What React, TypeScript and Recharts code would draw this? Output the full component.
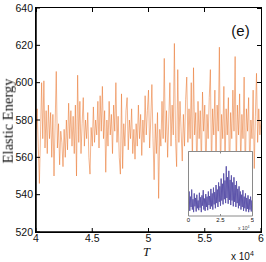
import { LineChart, Line, XAxis, YAxis } from "recharts";

// main series: elastic energy sampled every 100 steps from T = 4e4 to 6e4
const T_START = 40000;
const T_STEP = 100;
const ENERGY = [
  575, 586, 566, 546, 572, 600, 570, 601, 565, 585,
  562, 588, 570, 584, 560, 583, 550, 578, 606, 565,
  578, 556, 574, 568, 555, 575, 560, 580, 564, 589,
  570, 585, 566, 582, 562, 588, 550, 604, 568, 590,
  562, 578, 592, 566, 580, 570, 584, 560, 551, 576,
  566, 587, 568, 580, 572, 590, 565, 593, 574, 598,
  570, 585, 552, 580, 566, 590, 572, 583, 562, 588,
  574, 600, 568, 582, 560, 551, 594, 554, 578, 566,
  585, 592, 564, 580, 570, 586, 562, 575, 559, 578,
  566, 588, 570, 583, 561, 580, 568, 593, 572, 585,
  596, 565, 580, 599, 570, 548, 578, 562, 584, 538,
  575, 566, 590, 570, 613, 568, 585, 560, 580, 600,
  566, 588, 572, 621, 570, 555, 607, 568, 590, 574,
  558, 583, 566, 591, 603, 568, 586, 570, 600, 556,
  608, 572, 584, 552, 590, 570, 585, 555, 595, 574,
  588, 550, 583, 570, 592, 607, 553, 586, 572, 596,
  556, 588, 574, 619, 551, 583, 570, 598, 554, 586,
  572, 592, 549, 584, 570, 596, 574, 614, 553, 588,
  572, 594, 556, 583, 570, 603, 550, 586, 574, 592,
  552, 580, 570, 596, 554, 582, 605, 568, 586, 572,
  580,
];
const X_TICKS = [40000, 45000, 50000, 55000, 60000];
const Y_TICKS = [520, 540, 560, 580, 600, 620, 640];
const X_DOMAIN = [40000, 60000];
const Y_DOMAIN = [520, 640];

// inset series: full run, 0 to 5e4, relative scale
const INSET_STEP = 500;
const INSET_VALUES = [
  0.12, 0.38, 0.08, 0.3, 0.14, 0.41, 0.1, 0.26, 0.06, 0.35,
  0.15, 0.28, 0.07, 0.33, 0.12, 0.24, 0.09, 0.36, 0.13, 0.29,
  0.06, 0.32, 0.16, 0.4, 0.1, 0.27, 0.08, 0.34, 0.14, 0.3,
  0.09, 0.38, 0.17, 0.31, 0.11, 0.42, 0.15, 0.35, 0.1, 0.44,
  0.18, 0.37, 0.12, 0.48, 0.2, 0.41, 0.14, 0.52, 0.22, 0.46,
  0.16, 0.58, 0.24, 0.5, 0.18, 0.66, 0.26, 0.55, 0.2, 0.77,
  0.28, 0.6, 0.19, 0.7, 0.25, 0.56, 0.17, 0.63, 0.24, 0.52,
  0.15, 0.6, 0.22, 0.48, 0.14, 0.54, 0.2, 0.42, 0.12, 0.46,
  0.16, 0.38, 0.1, 0.33, 0.14, 0.4, 0.08, 0.3, 0.12, 0.35,
  0.07, 0.28, 0.11, 0.32, 0.06, 0.26, 0.1, 0.3, 0.07, 0.24,
  0.09,
];
const INSET_TICKS = [0, 25000, 50000];

const mainData = ENERGY.map((e, i) => ({ t: T_START + i * T_STEP, e }));
const insetData = INSET_VALUES.map((v, i) => ({ t: i * INSET_STEP, v }));

// main plot box in page pixels (margins below give this box)
const BOX = { left: 36, top: 8, width: 225, height: 224 };
const TICK_PX = 4;
const xPx = (t: number) => BOX.left + ((t - X_DOMAIN[0]) / (X_DOMAIN[1] - X_DOMAIN[0])) * BOX.width;
const yPx = (v: number) => BOX.top + ((Y_DOMAIN[1] - v) / (Y_DOMAIN[1] - Y_DOMAIN[0])) * BOX.height;

const fmtE4 = (v: number) => String(v / 10000);
const blank = () => "";

const sans = "'Liberation Sans', Arial, sans-serif";
const serif = "'Liberation Serif', 'Times New Roman', serif";
const tickFont = { fill: "#111", fontSize: 10.5, fontFamily: sans };
const axisLine = { stroke: "#000", strokeWidth: 1.5 };
const tickLine = { stroke: "#000", strokeWidth: 1 };
const insetAxis = { stroke: "#8a8a8a", strokeWidth: 1 };

export default function App() {
  return (
    <div style={{ position: "fixed", left: 0, top: 0, width: 266, height: 262, background: "#fff" }}>
      <div style={{ position: "absolute", left: 0, top: 0, zIndex: 0 }}>
        <LineChart width={266} height={262} data={mainData} margin={{ top: 8, right: 5, bottom: 0, left: 0 }}>
          <XAxis
            dataKey="t"
            type="number"
            domain={X_DOMAIN}
            ticks={X_TICKS}
            tickFormatter={fmtE4}
            height={30}
            tickSize={-TICK_PX}
            tickMargin={7}
            axisLine={axisLine}
            tickLine={tickLine}
            tick={tickFont}
            allowDataOverflow
          />
          <YAxis
            type="number"
            domain={Y_DOMAIN}
            ticks={Y_TICKS}
            width={36}
            tickSize={-TICK_PX}
            tickMargin={7}
            axisLine={axisLine}
            tickLine={tickLine}
            tick={tickFont}
            allowDataOverflow
          />
          <Line
            dataKey="e"
            type="linear"
            stroke="#e8742a"
            strokeOpacity={0.9}
            strokeWidth={0.6}
            dot={false}
            isAnimationActive={false}
          />
        </LineChart>
      </div>

      {/* full frame around the plot box, with mirrored ticks on top and right */}
      <div
        style={{
          position: "absolute",
          zIndex: 5,
          left: BOX.left - 0.75,
          top: BOX.top - 0.75,
          width: BOX.width,
          height: BOX.height,
          border: "1.5px solid #000",
          boxSizing: "content-box",
          pointerEvents: "none",
        }}
      />
      {X_TICKS.map((t) => (
        <div
          key={`xt${t}`}
          style={{ position: "absolute", zIndex: 5, left: xPx(t) - 0.5, top: BOX.top, width: 1, height: TICK_PX, background: "#000" }}
        />
      ))}
      {Y_TICKS.map((v) => (
        <div
          key={`yt${v}`}
          style={{ position: "absolute", zIndex: 5, left: BOX.left + BOX.width - TICK_PX, top: yPx(v) - 0.5, width: TICK_PX, height: 1, background: "#000" }}
        />
      ))}

      {/* inset background */}
      <div style={{ position: "absolute", zIndex: 6, left: 187, top: 151, width: 66, height: 65, background: "#fff" }} />
      <div style={{ position: "absolute", zIndex: 7, left: 186, top: 150 }}>
        <LineChart width={68} height={81} data={insetData} margin={{ top: 0.5, right: 0.5, bottom: 0, left: 1.5 }}>
          <XAxis
            xAxisId="ib"
            dataKey="t"
            type="number"
            domain={[0, 50000]}
            ticks={INSET_TICKS}
            tickFormatter={fmtE4}
            height={15}
            tickSize={-2}
            tickMargin={4}
            axisLine={insetAxis}
            tickLine={insetAxis}
            tick={{ fill: "#111", fontSize: 6, fontFamily: sans }}
            allowDataOverflow
          />
          <XAxis
            xAxisId="it"
            orientation="top"
            dataKey="t"
            type="number"
            domain={[0, 50000]}
            ticks={INSET_TICKS}
            tickFormatter={blank}
            height={1}
            tickSize={-2}
            axisLine={insetAxis}
            tickLine={insetAxis}
            allowDataOverflow
          />
          <YAxis
            yAxisId="il"
            type="number"
            domain={[0, 1]}
            ticks={[0, 1]}
            tickFormatter={blank}
            tickLine={false}
            width={1}
            axisLine={insetAxis}
            allowDataOverflow
          />
          <YAxis
            yAxisId="ir"
            orientation="right"
            type="number"
            domain={[0, 1]}
            ticks={[0, 1]}
            tickFormatter={blank}
            tickLine={false}
            width={1}
            axisLine={insetAxis}
            allowDataOverflow
          />
          <Line
            xAxisId="it"
            yAxisId="ir"
            dataKey="v"
            stroke="none"
            dot={false}
            activeDot={false}
            isAnimationActive={false}
          />
          <Line
            xAxisId="ib"
            yAxisId="il"
            dataKey="v"
            type="linear"
            stroke="#5d54aa"
            strokeWidth={1}
            dot={false}
            isAnimationActive={false}
          />
        </LineChart>
      </div>

      {/* annotations */}
      <div
        style={{
          position: "absolute",
          zIndex: 8,
          left: 8,
          top: 120.5,
          transform: "translate(-50%, -50%) rotate(-90deg)",
          whiteSpace: "nowrap",
          fontFamily: serif,
          fontSize: 14.5,
          lineHeight: 1,
          color: "#111",
        }}
      >
        Elastic Energy
      </div>
      <div
        style={{
          position: "absolute",
          zIndex: 8,
          left: 146.5,
          top: 252,
          transform: "translate(-50%, -50%)",
          fontFamily: serif,
          fontStyle: "italic",
          fontSize: 12.5,
          lineHeight: 1,
          color: "#111",
        }}
      >
        T
      </div>
      <div
        style={{
          position: "absolute",
          zIndex: 8,
          left: 240.5,
          top: 29.5,
          transform: "translate(-50%, -50%)",
          fontFamily: sans,
          fontSize: 15,
          lineHeight: 1,
          color: "#111",
          whiteSpace: "nowrap",
        }}
      >
        (e)
      </div>
      <div
        style={{
          position: "absolute",
          zIndex: 8,
          left: 231,
          top: 252,
          fontFamily: sans,
          fontSize: 10,
          lineHeight: 1,
          color: "#111",
          whiteSpace: "nowrap",
        }}
      >
        x 10<span style={{ fontSize: 7, position: "relative", top: -4 }}>4</span>
      </div>
      <div
        style={{
          position: "absolute",
          zIndex: 8,
          left: 238,
          top: 226,
          fontFamily: sans,
          fontSize: 5,
          lineHeight: 1,
          color: "#444",
          whiteSpace: "nowrap",
        }}
      >
        x 10<span style={{ fontSize: 3.5, position: "relative", top: -2 }}>4</span>
      </div>
    </div>
  );
}
